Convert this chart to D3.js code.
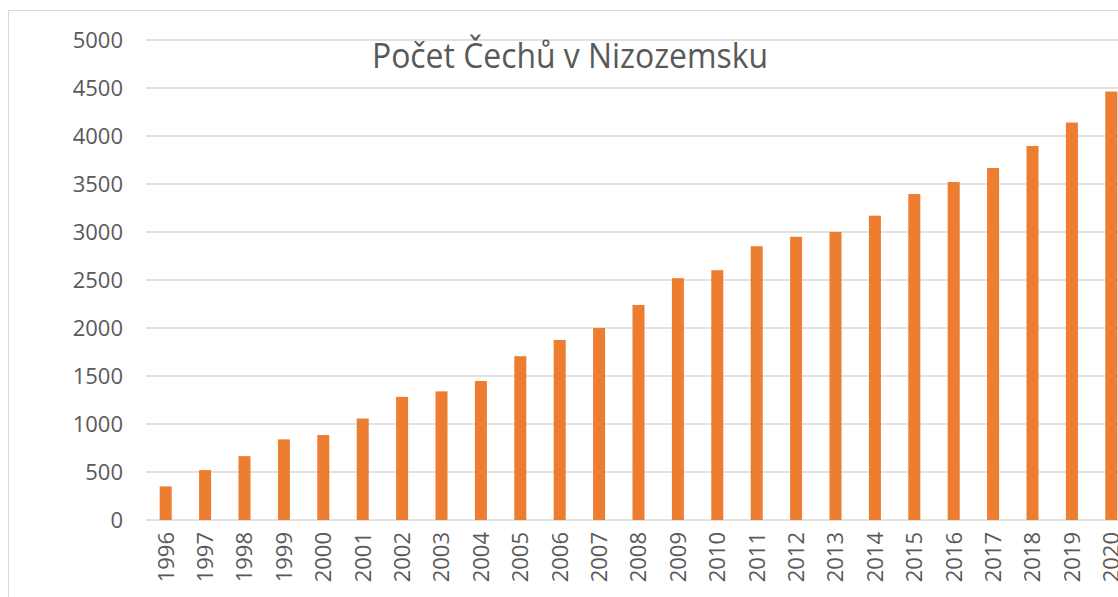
<!DOCTYPE html>
<html>
<head>
<meta charset="utf-8">
<script src="https://cdn.jsdelivr.net/npm/d3@7"></script>
<style>
  html, body { margin: 0; padding: 0; background: #fff; overflow: hidden; }
  svg { display: block; font-family: "Open Sans", "Liberation Sans", sans-serif; }
</style>
</head>
<body>
<svg id="chart" width="1118" height="597"></svg>
<script>
// data
const years = ["1996","1997","1998","1999","2000","2001","2002","2003","2004","2005","2006","2007","2008",
               "2009","2010","2011","2012","2013","2014","2015","2016","2017","2018","2019","2020"];
const counts = [350, 520, 665, 840, 885, 1057, 1283, 1340, 1448, 1706, 1876, 2000, 2240,
                2519, 2602, 2852, 2950, 3000, 3170, 3396, 3521, 3667, 3896, 4140, 4463];
const yTicks = [0, 500, 1000, 1500, 2000, 2500, 3000, 3500, 4000, 4500, 5000];
const title = "Počet Čechů v Nizozemsku";

const svg = d3.select("#chart");
const margin = {left: 146, top: 40};
const plotW = 985, plotH = 480;

// outer chart frame
svg.append("rect")
    .attr("x", 8.5).attr("y", 10.5)
    .attr("width", 1300).attr("height", 800)
    .attr("fill", "none").attr("stroke", "#d9d9d9").attr("stroke-width", 1);

const x = d3.scaleBand().domain(years).range([0, plotW]).paddingInner(0.695).paddingOuter(0.3475);
const y = d3.scaleLinear().domain([0, 5000]).range([plotH, 0]);

const g = svg.append("g").attr("transform", `translate(${margin.left},${margin.top})`);

// gridlines
g.append("g").selectAll("line").data(yTicks).join("line")
    .attr("x1", 0).attr("x2", plotW)
    .attr("y1", d => y(d)).attr("y2", d => y(d))
    .attr("stroke", "#d9d9d9").attr("stroke-width", 1.6);

// y labels
const yAxis = g.append("g").call(d3.axisLeft(y).tickValues(yTicks).tickFormat(d3.format("d")).tickSize(0).tickPadding(23));
yAxis.select(".domain").remove();
yAxis.selectAll("text")
    .attr("fill", "#595959")
    .style("font-size", "22px")
    .style("font-family", "'Open Sans', sans-serif");

// bars
g.append("g").selectAll("rect").data(years).join("rect")
    .attr("x", d => x(d))
    .attr("width", x.bandwidth())
    .attr("y", (d, i) => y(counts[i]))
    .attr("height", (d, i) => y(0) - y(counts[i]))
    .attr("fill", "#ed7d31");

// x labels, rotated
const xAxis = g.append("g").attr("transform", `translate(0,${plotH})`)
    .call(d3.axisBottom(x).tickSize(0).tickPadding(0));
xAxis.select(".domain").remove();
xAxis.selectAll("text")
    .attr("fill", "#595959")
    .style("font-size", "22px")
    .style("font-family", "'Open Sans', sans-serif")
    .attr("transform", "rotate(-90)")
    .attr("text-anchor", "end")
    .attr("x", -12)
    .attr("y", 0)
    .attr("dy", "0.36em");

// title
svg.append("text")
    .attr("x", 570).attr("y", 68)
    .attr("text-anchor", "middle")
    .attr("fill", "#595959")
    .style("font-size", "35px")
    .attr("textLength", 396)
    .attr("lengthAdjust", "spacingAndGlyphs")
    .text(title);
</script>
</body>
</html>
